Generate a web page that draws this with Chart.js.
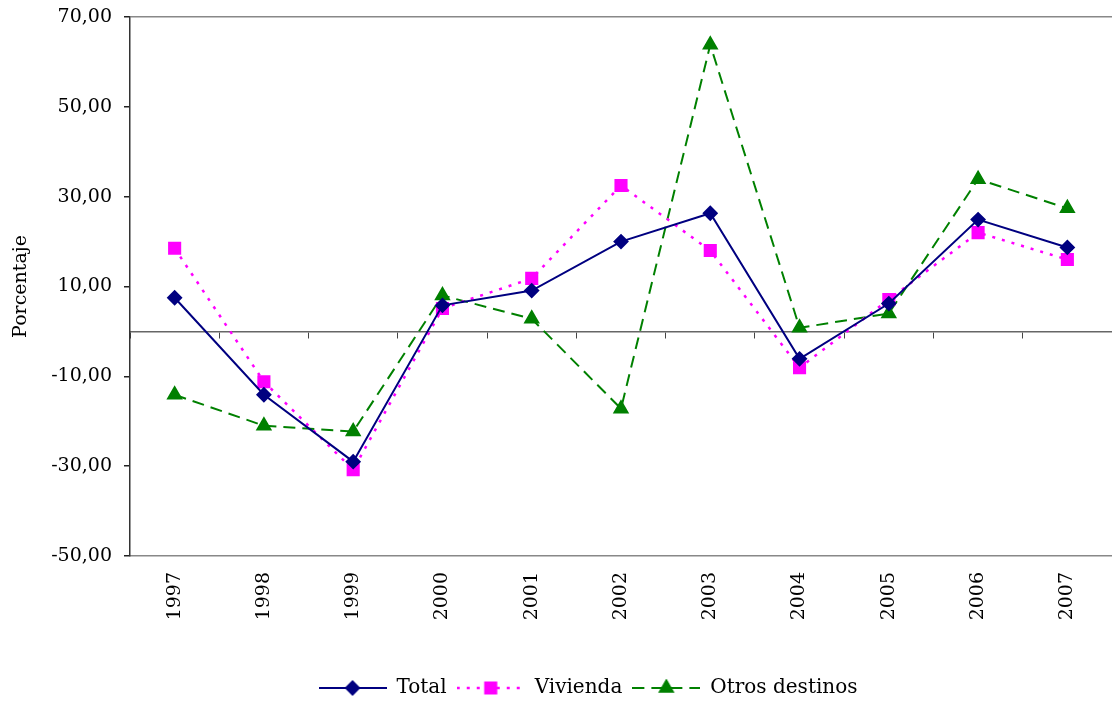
<!DOCTYPE html>
<html>
<head>
<meta charset="utf-8">
<script src="https://cdn.jsdelivr.net/npm/chart.js@4.4.0/dist/chart.umd.min.js"></script>
<style>
html, body { margin: 0; padding: 0; background: #fff; overflow: hidden; }
#wrap { width: 1112px; height: 708px; }
</style>
</head>
<body>
<div id="wrap"><canvas id="grafico"></canvas></div>
<script>
var years = ['1997', '1998', '1999', '2000', '2001', '2002', '2003', '2004', '2005', '2006', '2007'];
var total = [7.5, -14.1, -29.0, 5.8, 9.1, 20.0, 26.3, -6.1, 6.2, 24.9, 18.7];
var vivienda = [18.5, -11.2, -30.8, 5.1, 11.8, 32.5, 18.0, -8.1, 7.1, 22.0, 16.0];
var otros = [-14.1, -21.0, -22.3, 8.0, 2.8, -17.2, 63.8, 0.8, 4.0, 33.9, 27.4];
var yMin = -50, yMax = 70, yStep = 20;

Chart.defaults.font.family = "'DejaVu Serif', serif";
Chart.defaults.font.size = 19;
Chart.defaults.color = '#000';

// small picture for the legend: line style + marker in the middle
function legendImage(ds) {
  var c = document.createElement('canvas');
  c.width = 68; c.height = 18;
  var g = c.getContext('2d');
  g.strokeStyle = ds.borderColor;
  g.lineWidth = ds.borderWidth;
  g.setLineDash(ds.borderDash || []);
  g.beginPath();
  g.moveTo(0, 9);
  g.lineTo(68, 9);
  g.stroke();
  g.setLineDash([]);
  g.fillStyle = ds.pointBackgroundColor;
  g.strokeStyle = ds.pointBackgroundColor;
  Chart.helpers.drawPoint(g, { pointStyle: ds.pointStyle, radius: ds.pointRadius, borderWidth: 1 }, 34, 9);
  return c;
}

// legend sits a bit right of the canvas centre in the original
var moveLegend = {
  id: 'moveLegend',
  afterLayout: function (chart) {
    chart.legend.left += 32;
    chart.legend.right += 32;
  }
};

var ctx = document.getElementById('grafico').getContext('2d');
var grafico = new Chart(ctx, {
  type: 'line',
  data: {
    labels: years,
    datasets: [{
      label: 'Total',
      data: total,
      borderColor: '#000080',
      borderWidth: 2,
      pointStyle: 'rectRot',
      pointRadius: 6.5,
      pointBackgroundColor: '#000080',
      pointBorderColor: '#000080',
      tension: 0
    }, {
      label: 'Vivienda',
      data: vivienda,
      borderColor: '#FF00FF',
      borderWidth: 2.5,
      borderDash: [3, 7],
      pointStyle: 'rect',
      pointRadius: 7.5,
      pointBackgroundColor: '#FF00FF',
      pointBorderColor: '#FF00FF',
      tension: 0
    }, {
      label: 'Otros destinos',
      data: otros,
      borderColor: '#008000',
      borderWidth: 2,
      borderDash: [12, 7],
      pointStyle: 'triangle',
      pointRadius: 7.5,
      pointBackgroundColor: '#008000',
      pointBorderColor: '#008000',
      tension: 0
    }]
  },
  plugins: [moveLegend],
  options: {
    responsive: true,
    maintainAspectRatio: false,
    animation: false,
    layout: { autoPadding: false, padding: { top: 17, left: 0, right: 0, bottom: 0 } },
    plugins: {
      tooltip: { enabled: false },
      legend: {
        position: 'bottom',
        labels: {
          usePointStyle: true,
          pointStyleWidth: 68,
          padding: 10,
          color: '#000',
          font: { size: 20 },
          generateLabels: function (chart) {
            return chart.data.datasets.map(function (ds, i) {
              return {
                text: ds.label,
                pointStyle: legendImage(ds),
                datasetIndex: i,
                fontColor: '#000',
                lineWidth: 0,
                hidden: false
              };
            });
          }
        }
      }
    },
    scales: {
      x: {
        offset: true,
        grid: { display: false, drawTicks: false },
        border: { display: true, color: '#888', width: 1.5 },
        ticks: { minRotation: 90, maxRotation: 90, padding: 16, autoSkip: false },
        afterFit: function (scale) {
          scale.height = 112;
          scale.paddingLeft = 0;
          scale.paddingRight = 0;
        }
      },
      x2: {
        type: 'category',
        axis: 'x',
        labels: years,
        position: { y: 0 },
        offset: true,
        grid: { drawOnChartArea: false, offset: true, tickLength: 6, color: '#444' },
        border: { display: true, color: '#666', width: 1.5 },
        ticks: { display: false }
      },
      y: {
        min: yMin,
        max: yMax,
        ticks: {
          stepSize: yStep,
          padding: 12,
          callback: function (v) { return v.toFixed(2).replace('.', ','); }
        },
        grid: {
          color: function (c) { return c.tick && c.tick.value === yMax ? '#888' : 'rgba(0,0,0,0)'; },
          lineWidth: 1.5,
          tickColor: '#222',
          tickLength: 6
        },
        border: { display: true, color: '#333', width: 1.5 },
        title: { display: true, text: 'Porcentaje', font: { size: 19 }, padding: { top: 10, bottom: 0 } },
        afterFit: function (scale) {
          scale.width = 130;
          scale.paddingTop = 0;
          scale.paddingBottom = 0;
        }
      }
    }
  }
});
</script>
</body>
</html>
